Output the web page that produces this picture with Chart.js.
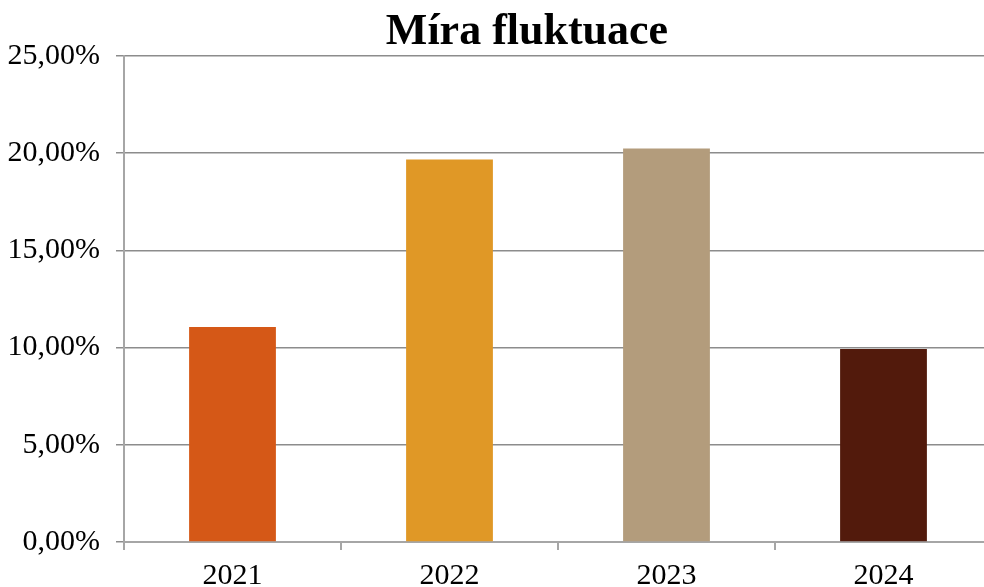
<!DOCTYPE html>
<html>
<head>
<meta charset="utf-8">
<title>Míra fluktuace</title>
<script src="https://cdn.jsdelivr.net/npm/chart.js@4.4.1/dist/chart.umd.min.js"></script>
<style>
  html, body { margin: 0; padding: 0; background: #fff; overflow: hidden; }
  #wrap { width: 984px; height: 587px; overflow: hidden; }
  canvas { display: block; }
</style>
</head>
<body>
<div id="wrap"><canvas id="chart" width="1054" height="613"></canvas></div>
<script>
// values (percent)
const years = ['2021', '2022', '2023', '2024'];
const turnover = [11.05, 19.67, 20.23, 9.92];
const barColors = ['#d55817', '#e09826', '#b39c7c', '#521a0c'];
const yMax = 25;
const yStep = 5;

const serif = '"Liberation Serif", "DejaVu Serif", serif';

// the original title sits centred on the full (wider) sheet, not on the padded area
const shiftTitle = {
  id: 'shiftTitle',
  afterLayout(chart) {
    const t = chart.titleBlock;
    if (t) { t.left = 62; t.right = 992; }
  }
};

new Chart(document.getElementById('chart'), {
  type: 'bar',
  data: {
    labels: years,
    datasets: [{
      label: 'Míra fluktuace',
      data: turnover,
      backgroundColor: barColors,
      borderWidth: 0,
      categoryPercentage: 1,
      barPercentage: 0.4
    }]
  },
  options: {
    responsive: false,
    devicePixelRatio: 1,
    animation: false,
    layout: { padding: { left: 0, right: 62, top: 0, bottom: 11 } },
    plugins: {
      legend: { display: false },
      tooltip: { enabled: false },
      title: {
        display: true,
        text: 'Míra fluktuace',
        color: '#000',
        font: { family: serif, size: 44, weight: 'bold' },
        padding: { top: 6, bottom: -3 }
      }
    },
    scales: {
      x: {
        grid: {
          offset: true,
          drawOnChartArea: false,
          tickLength: 8,
          color: '#a6a6a6',
          lineWidth: 2
        },
        border: { display: true, color: '#a6a6a6', width: 2 },
        ticks: {
          color: '#000',
          padding: 8,
          font: { family: serif, size: 30 }
        }
      },
      y: {
        min: 0,
        max: yMax,
        afterFit: s => { s.width = 124; },
        grid: {
          color: '#8c8c8c',
          lineWidth: 1.5,
          tickLength: 8
        },
        border: { display: true, color: '#a6a6a6', width: 2 },
        ticks: {
          stepSize: yStep,
          color: '#000',
          padding: 16,
          font: { family: serif, size: 30 },
          callback: v => v.toFixed(2).replace('.', ',') + '%'
        }
      }
    }
  },
  plugins: [shiftTitle]
});
</script>
</body>
</html>
